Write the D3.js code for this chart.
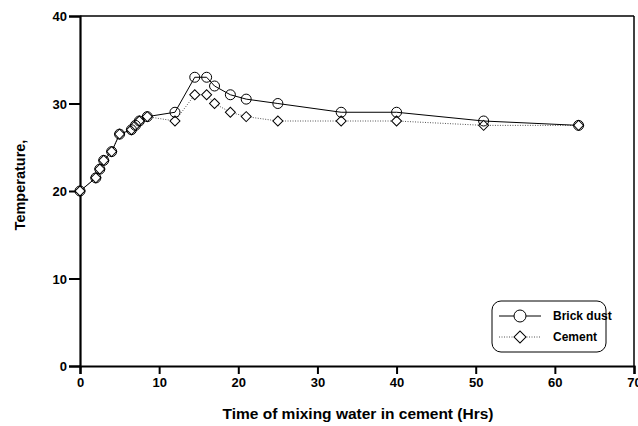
<!DOCTYPE html>
<html><head><meta charset="utf-8">
<script src="https://cdn.jsdelivr.net/npm/d3@7/dist/d3.min.js"></script>
<style>body{margin:0;background:#fff}svg{display:block}text{font-family:"Liberation Sans",Arial,sans-serif;font-weight:bold}</style>
</head><body><svg id="c" width="638" height="426"></svg>
<script>
const hours = [0, 2, 2.5, 3, 4, 5, 6.5, 7, 7.5, 8.5, 12, 14.5, 16, 17, 19, 21, 25, 33, 40, 51, 63];
const brickDust = [20, 21.5, 22.5, 23.5, 24.5, 26.5, 27, 27.5, 28, 28.5, 29, 33, 33, 32, 31, 30.5, 30, 29, 29, 28, 27.5];
const cement = [20, 21.5, 22.5, 23.5, 24.5, 26.5, 27, 27.5, 28, 28.5, 28, 31, 31, 30, 29, 28.5, 28, 28, 28, 27.5, 27.5];
const xTicks = [0, 10, 20, 30, 40, 50, 60, 70];
const yTicks = [0, 10, 20, 30, 40];
const seriesNames = ["Brick dust", "Cement"];

const svg = d3.select("#c");
const L = 80, R = 634, T = 16, B = 366;
const x = d3.scaleLinear().domain([0, 70]).range([L, R]);
const y = d3.scaleLinear().domain([0, 40]).range([B, T]);

// frame top/right
svg.append("line").attr("x1", L).attr("x2", R).attr("y1", T).attr("y2", T).attr("stroke", "#000").attr("stroke-width", 1.5);
svg.append("line").attr("x1", R).attr("x2", R).attr("y1", T).attr("y2", B).attr("stroke", "#000").attr("stroke-width", 1.5);

const xAxis = svg.append("g").attr("transform", `translate(0,${B})`)
  .call(d3.axisBottom(x).tickValues(xTicks).tickSize(8).tickPadding(4).tickFormat(d3.format("d")));
const yAxis = svg.append("g").attr("transform", `translate(${L},0)`)
  .call(d3.axisLeft(y).tickValues(yTicks).tickSize(11).tickPadding(2).tickFormat(d3.format("d")));
[xAxis, yAxis].forEach(g => {
  g.select(".domain").attr("stroke", "#000").attr("stroke-width", 2.2);
  g.selectAll(".tick line").attr("stroke", "#000").attr("stroke-width", 2);
  g.selectAll(".tick text").attr("fill", "#000").style("font-size", "13px").style("font-weight", "bold")
    .style("font-family", '"Liberation Sans",Arial,sans-serif');
});
yAxis.selectAll(".tick text").attr("dy", "0.35em");

const line = d3.line();
const bPts = hours.map((h, i) => [x(h), y(brickDust[i])]);
const cPts = hours.map((h, i) => [x(h), y(cement[i])]);

svg.append("path").attr("d", line(cPts)).attr("fill", "none").attr("stroke", "#555").attr("stroke-width", 1).attr("stroke-dasharray", "1,1.5");
svg.append("path").attr("d", line(bPts)).attr("fill", "none").attr("stroke", "#000").attr("stroke-width", 1);

const diamond = d3.symbol().type(d3.symbolSquare).size(50);
svg.selectAll(".cm").data(cPts).enter().append("path")
  .attr("d", diamond).attr("transform", d => `translate(${d[0]},${d[1]}) rotate(45)`)
  .attr("fill", "#fff").attr("stroke", "#000").attr("stroke-width", 1);
svg.selectAll(".bm").data(bPts).enter().append("circle")
  .attr("cx", d => d[0]).attr("cy", d => d[1]).attr("r", 5)
  .attr("fill", "none").attr("stroke", "#000").attr("stroke-width", 1);

// legend
const lg = svg.append("g");
lg.append("rect").attr("x", 492).attr("y", 301).attr("width", 114).attr("height", 51).attr("rx", 9)
  .attr("fill", "#fff").attr("stroke", "#000").attr("stroke-width", 1);
lg.append("line").attr("x1", 499).attr("x2", 541).attr("y1", 316).attr("y2", 316).attr("stroke", "#000");
lg.append("circle").attr("cx", 520).attr("cy", 316).attr("r", 6).attr("fill", "#fff").attr("stroke", "#000");
lg.append("line").attr("x1", 499).attr("x2", 541).attr("y1", 337).attr("y2", 337).attr("stroke", "#555").attr("stroke-dasharray", "1,1.5");
lg.append("path").attr("d", d3.symbol().type(d3.symbolSquare).size(72)).attr("transform", "translate(520,337) rotate(45)")
  .attr("fill", "#fff").attr("stroke", "#000");
lg.selectAll(".lt").data(seriesNames).enter().append("text")
  .attr("x", 553).attr("y", (d, i) => 316 + i * 21).attr("dy", "0.35em")
  .style("font-size", "12px").text(d => d);

svg.append("text").attr("x", 358).attr("y", 419).attr("text-anchor", "middle").style("font-size", "15.5px")
  .text("Time of mixing water in cement (Hrs)");
svg.append("text").attr("transform", "translate(25,185) rotate(-90)").attr("text-anchor", "middle").style("font-size", "14.5px")
  .text("Temperature,");
</script></body></html>
